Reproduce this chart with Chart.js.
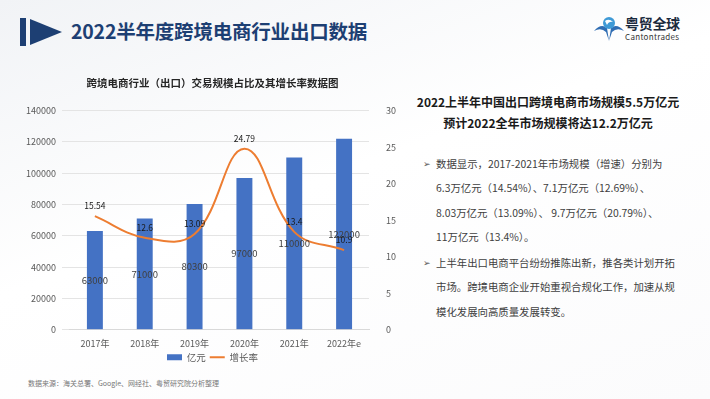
<!DOCTYPE html>
<html>
<head>
<meta charset="utf-8">
<script src="https://cdn.jsdelivr.net/npm/chart.js@4"></script>
<style>
  body { margin: 0; width: 710px; height: 399px; overflow: hidden; font-family: "Noto Sans CJK SC", "Noto Sans", sans-serif;
         background: linear-gradient(160deg, #f1f3f6 0%, #ffffff 45%, #fbfbfc 100%); position: relative; }
  .bar { position: absolute; left: 20px; top: 18px; width: 6px; height: 28px; background: #1d3f73; }
  .tri { position: absolute; left: 30px; top: 19px; width: 0; height: 0; border-top: 13px solid transparent;
         border-bottom: 13px solid transparent; border-left: 32px solid #1d3f73; }
  .head { position: absolute; left: 71px; top: 17px; font-size: 19.5px; line-height: 28px; font-weight: bold; color: #1d3f73; letter-spacing: -0.2px; }
  .logo { position: absolute; left: 594px; top: 12px; }
  .logo .ic { position: absolute; left: 0; top: 3px; width: 30px; height: 26px; }
  .logo .cn { position: absolute; left: 31px; top: 0; font-size: 14px; line-height: 22px; font-weight: bold; color: #1b2a3d; white-space: nowrap; letter-spacing: -0.3px; }
  .logo .en { position: absolute; left: 31px; top: 20px; font-size: 8px; line-height: 10px; color: #333; white-space: nowrap; letter-spacing: 0.3px; }
  #wrap { position: absolute; left: 16px; top: 66px; width: 389px; height: 306px; }
  .src { position: absolute; left: 28px; top: 378px; font-size: 7px; color: #777; }
  .side { position: absolute; left: 413px; top: 91px; width: 270px; color: #404040; }
  .side h3 { margin: 0; font-size: 12px; line-height: 21px; text-align: center; color: #1a1a1a; font-weight: bold; white-space: nowrap; }
  .side ul { list-style: none; margin: 19px 0 0 0; padding: 0 0 0 23px; font-size: 10.4px; line-height: 24.3px; width: 244px; }
  .side li { position: relative; margin-bottom: 2px; }
  .side li::before { content: "➢"; position: absolute; left: -13px; font-size: 9px; color: #555; }
</style>
</head>
<body>
<div class="bar"></div><div class="tri"></div>
<div class="head">2022半年度跨境电商行业出口数据</div>
<div class="logo">
  <svg class="ic" viewBox="0 0 30 26">
    <path d="M0 16 Q7 8 13 13 L15 26 L17 13 Q23 8 30 16 Q23 12 18 17 L15 26 L12 17 Q7 12 0 16Z" fill="#2f6db3"/>
    <circle cx="15" cy="8" r="6" fill="#3f9ad6"/>
    <path d="M11 6 Q15 3 19 7 Q15 6 13 10Z" fill="#ffffff"/>
  </svg>
  <div class="cn">粤贸全球</div>
  <div class="en">Cantontrades</div>
</div>
<div id="wrap"><canvas id="trade-chart"></canvas></div>
<div class="src">数据来源：海关总署、Google、网经社、粤贸研究院分析整理</div>
<div class="side">
  <h3>2022上半年中国出口跨境电商市场规模5.5万亿元</h3>
  <h3>预计2022全年市场规模将达12.2万亿元</h3>
  <ul>
    <li>数据显示，2017-2021年市场规模（增速）分别为<br>6.3万亿元（14.54%）、7.1万亿元（12.69%）、<br>8.03万亿元（13.09%）、 9.7万亿元（20.79%）、<br>11万亿元（13.4%）。</li>
    <li>上半年出口电商平台纷纷推陈出新，推各类计划开拓市场。跨境电商企业开始重视合规化工作，加速从规模化发展向高质量发展转变。</li>
  </ul>
</div>
<script>
const years = ["2017年", "2018年", "2019年", "2020年", "2021年", "2022年e"];
const scaleValues = [63000, 71000, 80300, 97000, 110000, 122000];
const growthRates = [15.54, 12.6, 13.09, 24.79, 13.4, 10.9];

const tickFont = { family: "'Noto Sans CJK SC', sans-serif", size: 9 };

// value labels drawn by hand, datalabels plugin is not available offline
const valueLabels = {
    id: "valueLabels",
    afterDatasetsDraw(chart) {
        const ctx = chart.ctx;
        ctx.save();
        ctx.textAlign = "center";
        ctx.textBaseline = "middle";
        const barMeta = chart.getDatasetMeta(0);
        ctx.font = "9.5px 'Noto Sans CJK SC', sans-serif";
        ctx.fillStyle = "#404040";
        barMeta.data.forEach(function (bar, i) {
            ctx.fillText(scaleValues[i], bar.x, (bar.y + bar.base) / 2);
        });
        const lineMeta = chart.getDatasetMeta(1);
        ctx.font = "8.5px 'Noto Sans CJK SC', sans-serif";
        ctx.fillStyle = "#1a1a1a";
        lineMeta.data.forEach(function (pt, i) {
            ctx.fillText(growthRates[i], pt.x, pt.y - 10);
        });
        ctx.restore();
    },
};

const config = {
    data: {
        labels: years,
        datasets: [
            {
                type: "bar",
                label: "亿元",
                data: scaleValues,
                backgroundColor: "#4472C4",
                barPercentage: 0.4,
                categoryPercentage: 0.8,
                pointStyle: "rect",
                yAxisID: "y",
                order: 2,
            },
            {
                type: "line",
                label: "增长率",
                data: growthRates,
                borderColor: "#ED7D31",
                backgroundColor: "#ED7D31",
                borderWidth: 2,
                tension: 0.4,
                pointRadius: 0,
                pointStyle: "line",
                yAxisID: "y1",
                order: 1,
            },
        ],
    },
    plugins: [valueLabels],
    options: {
        responsive: true,
        maintainAspectRatio: false,
        animation: false,
        layout: { padding: { left: 4 } },
        plugins: {
            title: {
                display: true,
                text: "跨境电商行业（出口）交易规模占比及其增长率数据图",
                color: "#262626",
                font: { family: "'Noto Sans CJK SC', sans-serif", size: 10.5, weight: "bold" },
                padding: { top: 11, bottom: 21 },
            },
            legend: {
                position: "bottom",
                labels: {
                    usePointStyle: true,
                    pointStyleWidth: 15,
                    boxHeight: 6,
                    color: "#595959",
                    padding: 4,
                    font: { family: "'Noto Sans CJK SC', sans-serif", size: 9.5 },
                    sort: function (a, b) {
                        return a.datasetIndex - b.datasetIndex;
                    },
                },
            },
            tooltip: { enabled: false },
        },
        scales: {
            x: {
                grid: { display: false },
                border: { color: "#d9d9d9" },
                ticks: { color: "#595959", font: tickFont, padding: 0 },
            },
            y: {
                min: 0,
                max: 140000,
                ticks: {
                    stepSize: 20000,
                    color: "#595959",
                    font: tickFont,
                    padding: 6,
                    callback: function (value) {
                        return String(value);
                    },
                },
                grid: { color: "#e4e4e4" },
                border: { display: false },
            },
            y1: {
                position: "right",
                min: 0,
                max: 30,
                ticks: { stepSize: 5, color: "#595959", font: tickFont, padding: 9 },
                grid: { drawOnChartArea: false, display: false },
                border: { display: false },
            },
        },
    },
};

new Chart(document.getElementById("trade-chart"), config);
</script>
</body>
</html>
